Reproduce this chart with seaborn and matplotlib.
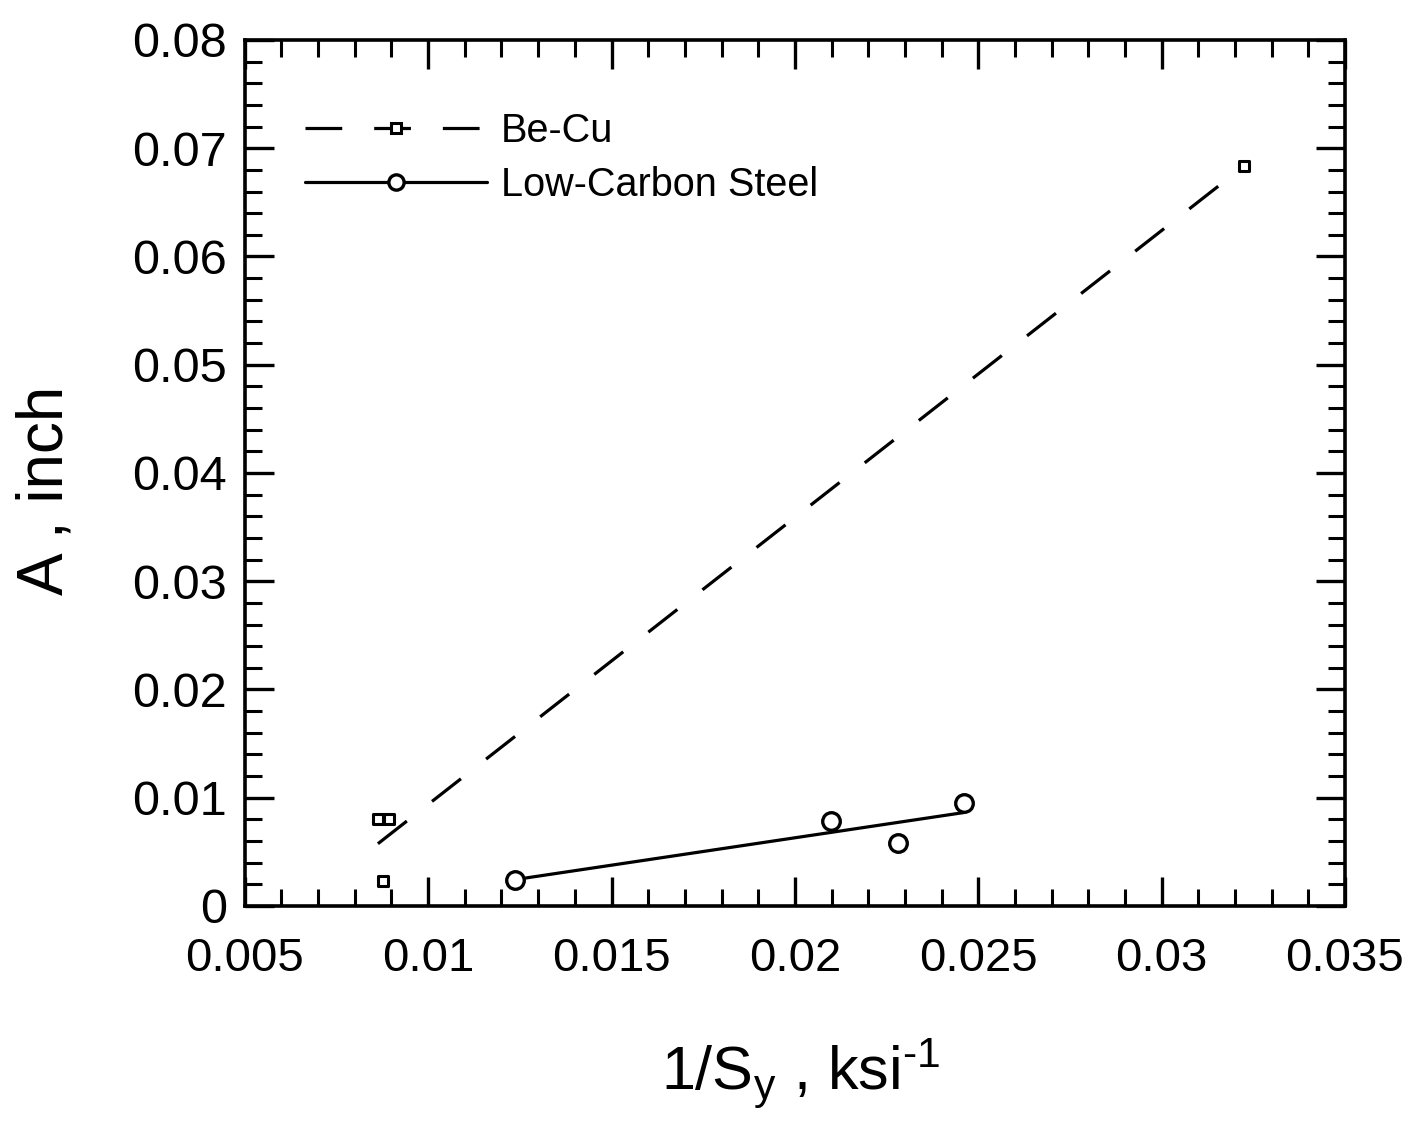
import numpy as np
import pandas as pd
import matplotlib
matplotlib.use("Agg")
import matplotlib.pyplot as plt
from matplotlib.lines import Line2D
from matplotlib.ticker import MultipleLocator, FuncFormatter
import seaborn as sns

# Measured data: inverse yield strength (1/ksi) vs. coefficient A (inch)
becu_x = [0.00863, 0.00893, 0.00876, 0.03225]
becu_y = [0.00804, 0.00804, 0.00231, 0.06836]
steel_x = [0.01236, 0.02098, 0.02281, 0.02461]
steel_y = [0.00240, 0.00785, 0.00582, 0.00951]

sns.set_theme(style="ticks")
plt.rcParams["font.family"] = ["Liberation Sans", "DejaVu Sans"]
plt.rcParams["mathtext.default"] = "regular"
plt.rcParams["text.color"] = "black"
plt.rcParams["axes.labelcolor"] = "black"

fig = plt.figure(figsize=(14.15, 11.26), dpi=100)
ax = fig.add_axes([0.173, 0.1954, 0.7775, 0.7691])

becu = pd.DataFrame({"x": becu_x, "y": becu_y})
steel = pd.DataFrame({"x": steel_x, "y": steel_y})


def fit_line(df):
    k, b = np.polyfit(df["x"], df["y"], 1)
    xs = np.array([df["x"].min(), df["x"].max()])
    return pd.DataFrame({"x": xs, "y": k * xs + b})


lw = 2.3
dash = (0, (11.5, 10))
sns.lineplot(data=fit_line(becu), x="x", y="y", ax=ax, color="black",
             linewidth=lw, linestyle=dash, estimator=None)
sns.lineplot(data=fit_line(steel), x="x", y="y", ax=ax, color="black",
             linewidth=lw, estimator=None)
sns.scatterplot(data=becu, x="x", y="y", ax=ax, marker="s", s=60,
                facecolor="white", edgecolor="black", linewidth=2.2, zorder=3)
sns.scatterplot(data=steel, x="x", y="y", ax=ax, marker="o", s=160,
                facecolor="white", edgecolor="black", linewidth=2.4, zorder=3)

ax.set_xlim(0.005, 0.035)
ax.set_ylim(0, 0.08)
ax.xaxis.set_major_locator(MultipleLocator(0.005))
ax.xaxis.set_minor_locator(MultipleLocator(0.001))
ax.yaxis.set_major_locator(MultipleLocator(0.01))
ax.yaxis.set_minor_locator(MultipleLocator(0.002))
fmt = FuncFormatter(lambda v, p: "%g" % round(v, 4))
ax.xaxis.set_major_formatter(fmt)
ax.yaxis.set_major_formatter(fmt)

ax.tick_params(which="both", direction="in", top=True, right=True,
               color="black", labelcolor="black")
ax.tick_params(axis="x", labelsize=34)
ax.tick_params(axis="y", labelsize=35)
ax.tick_params(which="major", length=21, width=2.4)
ax.tick_params(which="minor", length=12, width=2.2)
ax.tick_params(axis="x", which="major", pad=22)
ax.tick_params(axis="y", which="major", pad=13)
for sp in ax.spines.values():
    sp.set_linewidth(2.6)
    sp.set_color("black")

ax.set_xlabel("1/S$_y$ , ksi$^{‐1}$", fontsize=44)
ax.set_ylabel("A , inch", fontsize=46)
ax.xaxis.set_label_coords(0.505, -0.151)
ax.yaxis.set_label_coords(-0.154, 0.48)

handles = [
    Line2D([], [], color="black", linewidth=lw, linestyle=dash,
           marker="s", markersize=7, markerfacecolor="white",
           markeredgewidth=2.2),
    Line2D([], [], color="black", linewidth=lw, marker="o",
           markersize=11, markerfacecolor="white", markeredgewidth=2.4),
]
leg = ax.legend(handles, ["Be-Cu", "Low-Carbon Steel"], loc="upper left",
                bbox_to_anchor=(0.04, 0.935), frameon=False, fontsize=28.5,
                handlelength=4.6, handletextpad=0.35, labelspacing=0.4,
                borderaxespad=0)
for t in leg.get_texts():
    t.set_color("black")

fig.savefig("out.png", dpi=100, facecolor="white")
